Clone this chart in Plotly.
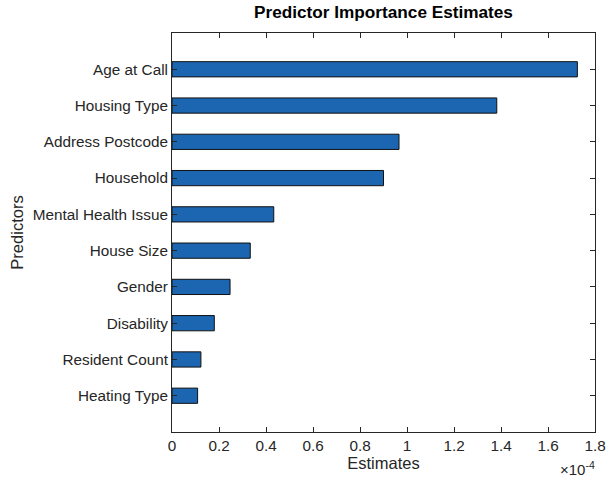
import plotly.graph_objects as go

# predictors, listed bottom to top as MATLAB barh draws them
predictors = ["Heating Type", "Resident Count", "Disability", "Gender", "House Size",
              "Mental Health Issue", "Household", "Address Postcode", "Housing Type", "Age at Call"]
estimates = [0.109e-4, 0.123e-4, 0.180e-4, 0.247e-4, 0.333e-4,
             0.433e-4, 0.900e-4, 0.966e-4, 1.382e-4, 1.725e-4]
x_ticks = [0, 0.2, 0.4, 0.6, 0.8, 1, 1.2, 1.4, 1.6, 1.8]

scaled = [v * 1e4 for v in estimates]
font_name = "Liberation Sans, Arial, sans-serif"
axis_col = "#262626"

fig = go.Figure(go.Bar(
    x=scaled, y=list(range(len(predictors))), orientation="h",
    width=0.42, marker=dict(color="#1c65b1", line=dict(color="#111111", width=1)),
))

fig.update_layout(
    width=606, height=483,
    margin=dict(l=172, r=11, t=33, b=51, autoexpand=False),
    plot_bgcolor="white", paper_bgcolor="white",
    font=dict(family=font_name, size=15.3, color=axis_col),
    showlegend=False,
    title=dict(text="<b>Predictor Importance Estimates</b>", x=(172 + 595) / 2 / 606, xanchor="center",
               y=1 - 12 / 483, yanchor="middle", font=dict(size=17.2, color="black")),
)
fig.update_xaxes(
    range=[0, 1.8], tickvals=x_ticks, ticktext=[f"{t:g}" for t in x_ticks],
    showline=True, linecolor=axis_col, linewidth=1, mirror="ticks",
    ticks="inside", ticklen=5, tickcolor=axis_col, showgrid=False, zeroline=False,
    automargin=False,
    title=dict(text="Estimates", font=dict(size=16.5), standoff=4),
)
fig.update_yaxes(
    range=[-1, len(predictors)], tickvals=list(range(len(predictors))), ticktext=predictors,
    showline=True, linecolor=axis_col, linewidth=1, mirror="ticks",
    ticks="inside", ticklen=5, tickcolor=axis_col, showgrid=False, zeroline=False,
    automargin=False,
    title=dict(text="Predictors", font=dict(size=16.5), standoff=4),
)
fig.add_annotation(text="×10<sup>-4</sup>", xref="paper", yref="paper", x=1.005, y=-0.063,
                   xanchor="right", yanchor="top", showarrow=False, font=dict(size=15, color=axis_col))

# drop the default body margin so the figure sits at the page's corner
fig.write_html("out.html", config={"displayModeBar": False},
               post_script="document.body.style.margin='0px';")
